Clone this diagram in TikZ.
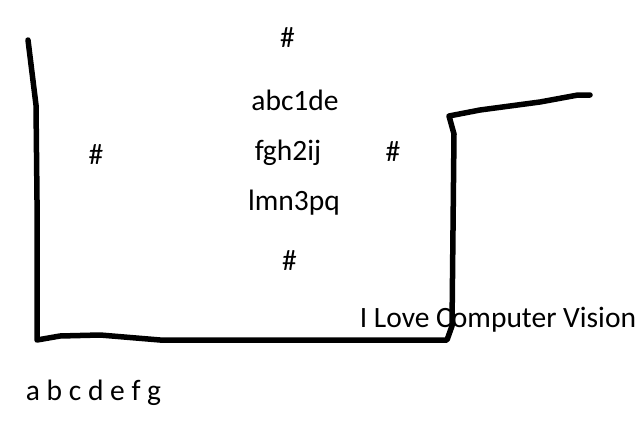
\documentclass[tikz,border=0pt]{standalone}
\usepackage{fontspec}
\setmainfont{Carlito}
\begin{document}
\begin{tikzpicture}[x=1pt,y=-1pt,
    txt/.style={font=\fontsize{29.5}{35}\selectfont,inner sep=0pt,anchor=base},
    pen/.style={line width=5.5pt,line cap=round,line join=round}]
          \useasboundingbox (0,0) rectangle (640,437);

          \draw[pen] (28,40) -- (36,105) -- (37,200) -- (37,340)
                -- (60,336) -- (100,335) -- (160,340) -- (447,340)
                -- (452,326) -- (454,134) -- (449,116)
                -- (480,110) -- (540,102) -- (578,95) -- (590,95);

          \node[txt] (hashtop) at (287.5,47) {\#};
          \node[txt] (hashleft) at (96,164) {\#};
          \node[txt] (hashright) at (393,161) {\#};
          \node[txt] (hashbot) at (289.5,270) {\#};

          \node[txt] (row1) at (295,110) {abc1de};
          \node[txt] (row2) at (288,160) {fgh2ij};
          \node[txt] (row3) at (294,210) {lmn3pq};

          \node[txt] (title) at (498,327) {I Love Computer Vision};
          \node[txt] (letters) at (93.5,400) {a b c d e f g};
        \end{tikzpicture}
\end{document}
